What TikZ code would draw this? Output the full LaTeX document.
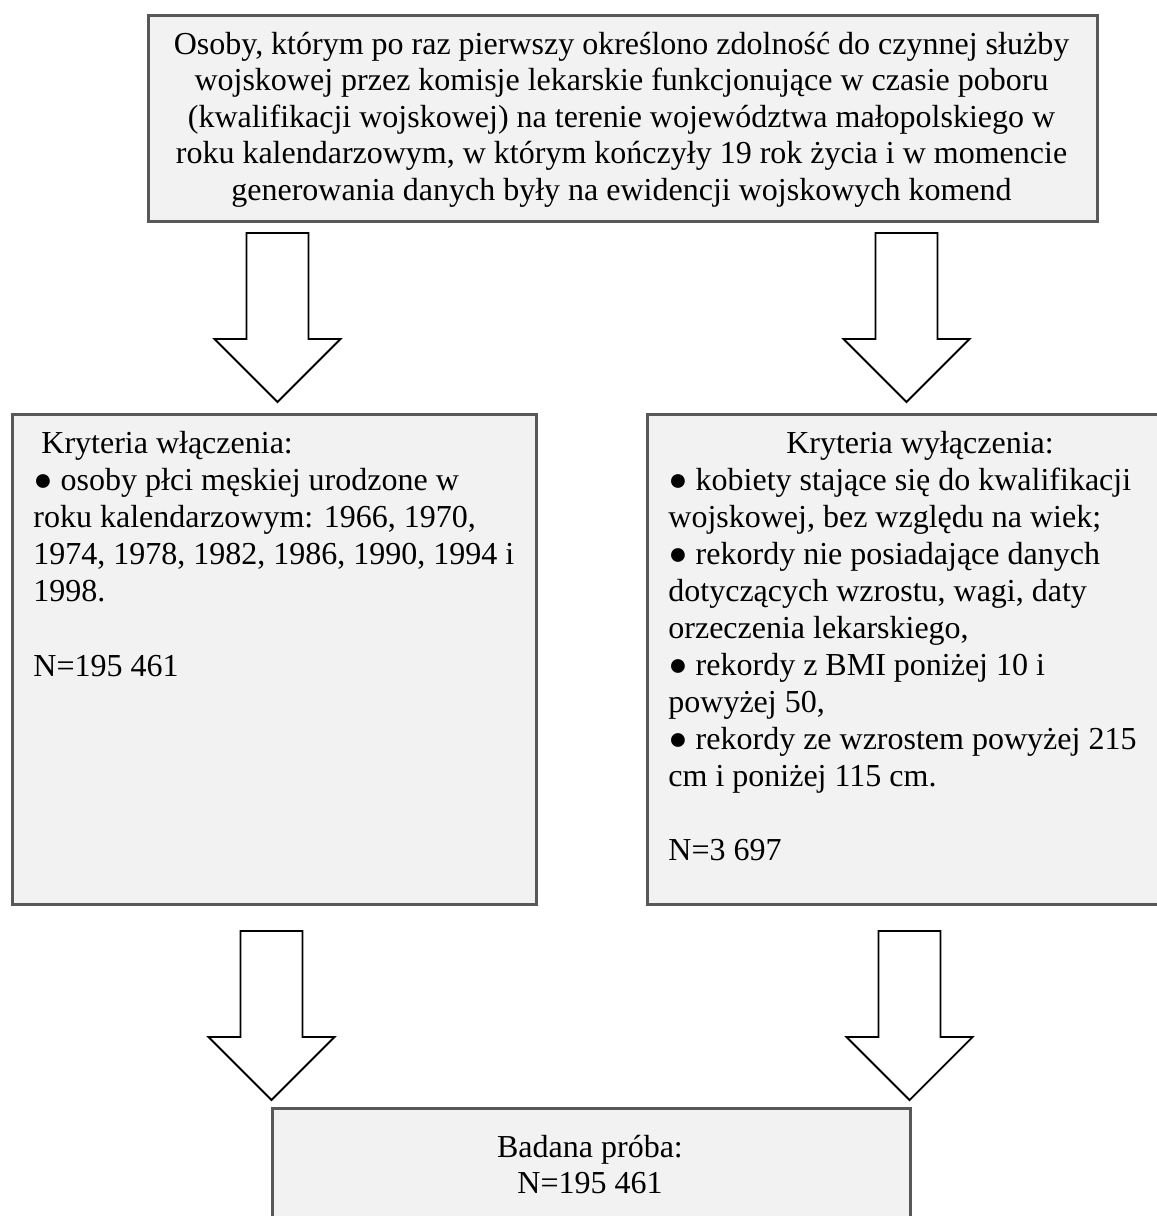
\documentclass[tikz,border=0pt]{standalone}
\usepackage{fontspec}
\setmainfont{Liberation Serif}
\definecolor{boxgray}{RGB}{88,88,88}
\definecolor{boxfill}{RGB}{242,242,242}
\tikzset{
  box/.style={draw=boxgray, fill=boxfill, line width=1.3pt, inner sep=0pt, anchor=north west},
  barrow/.style={draw=black, fill=white, line width=0.9pt, line join=miter},
  txt/.style={inner sep=0pt, font=\fontsize{16}{18.35}\selectfont},
}
\newcommand{\blockarr}[4]{%
  \draw[barrow] (#1-31,#2) -- (#1+31,#2) -- (#1+31,#3) -- (#1+63,#3)
    -- (#1,#4) -- (#1-63,#3) -- (#1-31,#3) -- cycle;}
\begin{document}
\begin{tikzpicture}[x=0.5pt, y=-0.5pt]
\useasboundingbox (0,0) rectangle (1157,1216);
\clip (0,0) rectangle (1157,1216);
\fill[white] (0,0) rectangle (1157,1216);

% boxes
\node[box, minimum width=474.5pt, minimum height=103pt] (top) at (147,14) {};
\node[box, minimum width=262pt, minimum height=245pt] (inc) at (11,413) {};
\node[box, minimum width=274pt, minimum height=245pt] (exc) at (646,413) {};
\node[box, minimum width=319pt, minimum height=110pt] (res) at (271,1107) {};

% top text
\foreach \t [count=\i from 0] in {
  {Osoby, którym po raz pierwszy określono zdolność do czynnej służby},
  {wojskowej przez komisje lekarskie funkcjonujące w czasie poboru},
  {(kwalifikacji wojskowej) na terenie województwa małopolskiego w},
  {roku kalendarzowym, w którym kończyły 19 rok życia i w momencie},
  {generowania danych były na ewidencji wojskowych komend}}
  \node[txt, anchor=base] (tl\i) at (621.5,54+36.6*\i) {\t};

% inclusion text
\node[txt, anchor=base west] (inctitle) at (41,453) {Kryteria włączenia:};
\foreach \t [count=\i from 1] in {
  {● osoby płci męskiej urodzone w},
  {roku kalendarzowym: 1966, 1970,},
  {1974, 1978, 1982, 1986, 1990, 1994 i},
  {1998.}}
  \node[txt, anchor=base west] (il\i) at (33,453+37*\i) {\t};
\node[txt, anchor=base west] (incN) at (33,676) {N=195 461};

% exclusion text
\node[txt, anchor=base] (exctitle) at (920,453) {Kryteria wyłączenia:};
\foreach \t [count=\i from 1] in {
  {● kobiety stające się do kwalifikacji},
  {wojskowej, bez względu na wiek;},
  {● rekordy nie posiadające danych},
  {dotyczących wzrostu, wagi, daty},
  {orzeczenia lekarskiego,},
  {● rekordy z BMI poniżej 10 i},
  {powyżej 50,},
  {● rekordy ze wzrostem powyżej 215},
  {cm i poniżej 115 cm.}}
  \node[txt, anchor=base west] (el\i) at (668,453+37*\i) {\t};
\node[txt, anchor=base west] (excN) at (668,860) {N=3 697};

% result text
\node[txt, anchor=base] (restitle) at (590,1157) {Badana próba:};
\node[txt, anchor=base] (resN) at (590,1193) {N=195 461};

% block arrows
\blockarr{277.5}{233}{339}{402}
\blockarr{906.5}{233}{339}{402}
\blockarr{271.5}{931}{1037}{1100}
\blockarr{909.5}{931}{1037}{1100}
\end{tikzpicture}
\end{document}
